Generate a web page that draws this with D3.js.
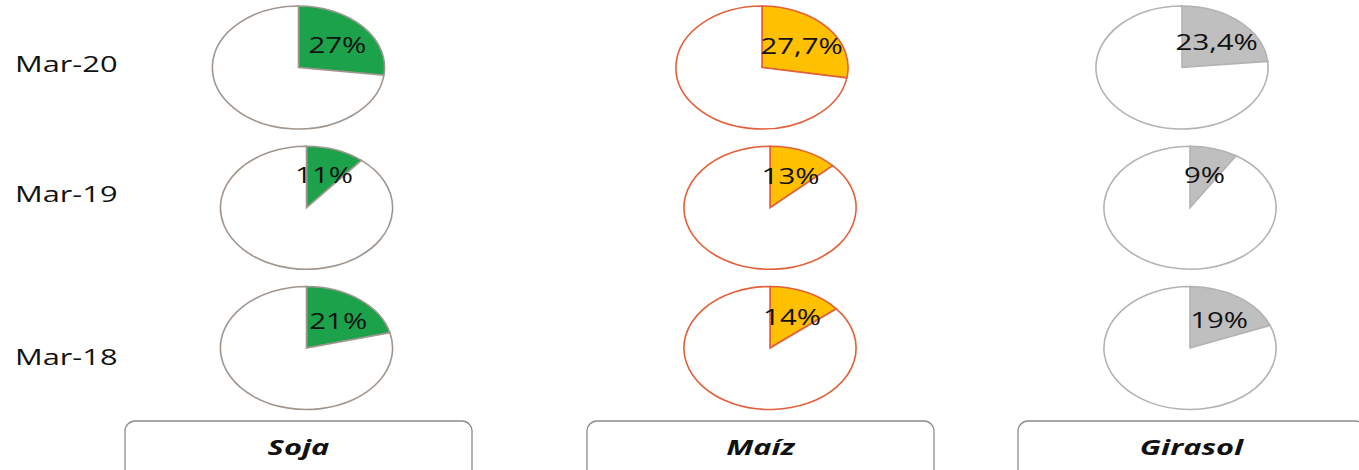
<!DOCTYPE html>
<html>
<head>
<meta charset="utf-8">
<script src="https://cdn.jsdelivr.net/npm/d3@7"></script>
<style>
  body { margin: 0; background: #fff; }
  svg { display: block; }
  text { font-family: "Open Sans", sans-serif; fill: #111; }
</style>
</head>
<body>
<div id="chart"></div>
<script>
// data
var rows = ["Mar-20", "Mar-19", "Mar-18"];
var crops = ["Soja", "Maíz", "Girasol"];
var soja = [27, 11, 21];
var maiz = [27.7, 13, 14];
var girasol = [23.4, 9, 19];

var values = { "Soja": soja, "Maíz": maiz, "Girasol": girasol };

var W = 1359, H = 470,
    sx = 1.4; // the original picture is stretched horizontally

var svg = d3.select("#chart").append("svg")
    .attr("width", W)
    .attr("height", H)
    .attr("viewBox", "0 0 " + (W / sx) + " " + H)
    .attr("preserveAspectRatio", "none");

var fillColor = d3.scaleOrdinal().domain(crops).range(["#1ba24b", "#ffc000", "#bfbfbf"]);
var lineColor = d3.scaleOrdinal().domain(crops).range(["#a0968e", "#e2603a", "#b3b3b3"]);

// layout (screen px, divided by sx for the stretched viewBox)
var colX = d3.scaleOrdinal().domain(crops).range([306.5, 770, 1190].map(function(v) { return v / sx; }));
var rowShift = d3.scaleOrdinal().domain(rows).range([-8, 0, 0].map(function(v) { return v / sx; }));
var y = d3.scalePoint().domain(rows).range([67.5, 348]);
var labelY = d3.scaleOrdinal().domain(rows).range([64, 194.5, 357.5]);
var boxX = d3.scaleOrdinal().domain(crops).range([125, 587, 1018].map(function(v) { return v / sx; }));

var radius = 61.5;

var pie = d3.pie().sort(null).value(function(d) { return d; });
var path = d3.arc().innerRadius(0).outerRadius(radius);
var label = d3.arc().innerRadius(0).outerRadius(74);

function fmt(v) { return String(v).replace(".", ",") + "%"; }

// row labels
svg.selectAll(".rowlabel")
    .data(rows)
    .enter()
    .append("text")
    .attr("class", "rowlabel")
    .attr("x", 15 / sx)
    .attr("y", function(d) { return labelY(d); })
    .attr("dy", "0.35em")
    .style("font-size", "22px")
    .text(function(d) { return d; });

// pies
var cells = [];
crops.forEach(function(c) {
    rows.forEach(function(r, i) {
        cells.push({ crop: c, row: r, value: values[c][i] });
    });
});

var cell = svg.selectAll(".cell")
    .data(cells)
    .enter()
    .append("g")
    .attr("class", "cell")
    .attr("transform", function(d) {
        return "translate(" + (colX(d.crop) + rowShift(d.row)) + "," + y(d.row) + ")";
    });

cell.selectAll("path")
    .data(function(d) {
        return pie([d.value, 100 - d.value]).map(function(s) { s.crop = d.crop; return s; });
    })
    .enter()
    .append("path")
    .attr("d", path)
    .attr("fill", function(d) { return d.index === 0 ? fillColor(d.crop) : "#fff"; })
    .attr("stroke", function(d) { return lineColor(d.crop); })
    .attr("stroke-width", 1.6)
    .attr("vector-effect", "non-scaling-stroke");

cell.append("text")
    .attr("transform", function(d) {
        var c = label.centroid(pie([d.value, 100 - d.value])[0]);
        return "translate(" + c[0] + "," + (c[1] + 3) + ")";
    })
    .attr("text-anchor", "middle")
    .attr("dy", "0.35em")
    .style("font-size", "21px")
    .text(function(d) { return fmt(d.value); });

// category boxes
var box = svg.selectAll(".box")
    .data(crops)
    .enter()
    .append("g")
    .attr("class", "box");

box.append("rect")
    .attr("x", function(d) { return boxX(d); })
    .attr("y", 421)
    .attr("width", 347 / sx)
    .attr("height", 60)
    .attr("rx", 10 / sx)
    .attr("ry", 10)
    .attr("fill", "#fff")
    .attr("stroke", "#8c8c8c")
    .attr("stroke-width", 1.3)
    .attr("vector-effect", "non-scaling-stroke");

box.append("text")
    .attr("x", function(d) { return boxX(d) + 347 / sx / 2; })
    .attr("y", 447)
    .attr("dy", "0.35em")
    .attr("text-anchor", "middle")
    .style("font-size", "22px")
    .style("font-weight", "bold")
    .style("font-style", "italic")
    .text(function(d) { return d; });
</script>
</body>
</html>
